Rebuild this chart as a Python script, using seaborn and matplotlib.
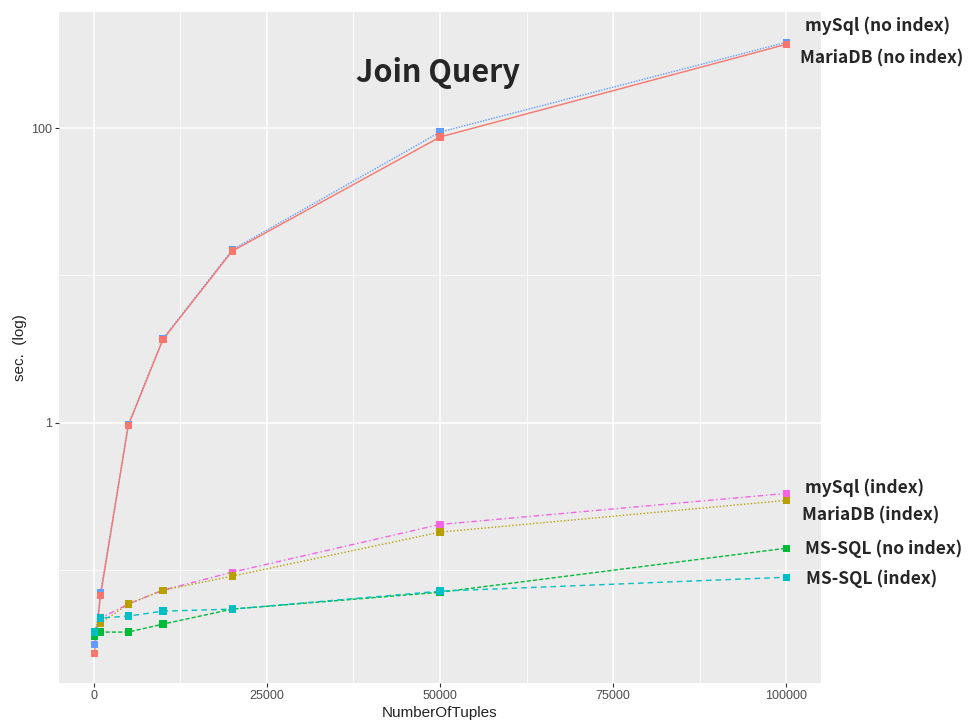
import matplotlib
matplotlib.use("Agg")
import matplotlib.pyplot as plt
import matplotlib.ticker as mticker
import seaborn as sns
import pandas as pd

# --- data ---
n_tuples = [100, 1000, 5000, 10000, 20000, 50000, 100000]
mysql_noidx = [0.031, 0.070, 0.97, 3.71, 14.9, 94, 383]
maria_noidx = [0.027, 0.067, 0.955, 3.66, 14.6, 87, 371]
mysql_idx = [0.0377, 0.0469, 0.0584, 0.0726, 0.0962, 0.203, 0.330]
maria_idx = [0.0354, 0.0434, 0.0584, 0.0726, 0.0904, 0.180, 0.296]
mssql_noidx = [0.0354, 0.0377, 0.0377, 0.0427, 0.054, 0.0703, 0.140]
mssql_idx = [0.0377, 0.047, 0.0484, 0.0523, 0.054, 0.0715, 0.0889]

names = ["mySql (no index)", "MariaDB (no index)", "mySql (index)",
         "MariaDB (index)", "MS-SQL (no index)", "MS-SQL (index)"]
values = [mysql_noidx, maria_noidx, mysql_idx, maria_idx, mssql_noidx, mssql_idx]

colors = {"mySql (no index)": "#619CFF", "MariaDB (no index)": "#F8766D",
          "mySql (index)": "#F564E3", "MariaDB (index)": "#B79F00",
          "MS-SQL (no index)": "#00BA38", "MS-SQL (index)": "#00BFC4"}
dashes = {"mySql (no index)": (1, 1), "MariaDB (no index)": "",
          "mySql (index)": (4, 2, 1, 2), "MariaDB (index)": (1, 1.5),
          "MS-SQL (no index)": (3, 1.5), "MS-SQL (index)": (4, 3)}

rows = []
for name, vals in zip(names, values):
    for n, v in zip(n_tuples, vals):
        rows.append({"NumberOfTuples": n, "sec": v, "db": name})
df = pd.DataFrame(rows)

sns.set_style("darkgrid", {"axes.facecolor": "#EBEBEB", "grid.color": "white",
                           "xtick.bottom": True, "ytick.left": True})
plt.rcParams['font.family'] = ['Liberation Sans', 'DejaVu Sans']

fig, ax = plt.subplots(figsize=(9.68, 7.25), dpi=100)
fig.subplots_adjust(left=59/968, right=821/968, top=1-12/725, bottom=1-683/725)

sns.lineplot(data=df, x="NumberOfTuples", y="sec", hue="db", style="db",
             palette=colors, dashes=dashes, linewidth=1, legend=False, ax=ax)
sns.scatterplot(data=df, x="NumberOfTuples", y="sec", hue="db", palette=colors,
                marker="s", s=28, linewidth=0, legend=False, ax=ax, zorder=3)

ax.set_yscale("log")
ax.set_ylim(0.017, 615)
ax.set_xlim(-5000, 105000)
ax.yaxis.set_major_locator(mticker.FixedLocator([1, 100]))
ax.yaxis.set_minor_locator(mticker.FixedLocator([0.1, 10]))
ax.yaxis.set_major_formatter(mticker.FixedFormatter(["1", "100"]))
ax.yaxis.set_minor_formatter(mticker.NullFormatter())
ax.xaxis.set_major_locator(mticker.FixedLocator([0, 25000, 50000, 75000, 100000]))
ax.xaxis.set_minor_locator(mticker.FixedLocator([12500, 37500, 62500, 87500]))
ax.xaxis.set_major_formatter(mticker.FuncFormatter(lambda v, p: f"{int(v)}"))

ax.grid(which="major", color="white", linewidth=1.1)
ax.grid(which="minor", color="white", linewidth=0.55)
ax.tick_params(which="major", length=3, width=0.8, color="#333333",
               labelcolor="#4D4D4D", labelsize=9, pad=2)
ax.tick_params(which="minor", length=0)
for s in ax.spines.values():
    s.set_visible(False)

ax.set_xlabel("NumberOfTuples", fontsize=11, color="#222222", labelpad=3)
ax.set_ylabel("sec.  (log)", fontsize=11, color="#222222", labelpad=3)

ax.text(0.497, 0.909, "Join Query", transform=ax.transAxes, ha="center", va="center",
        fontsize=22, fontweight="bold", family=["Noto Sans CJK KR", "DejaVu Sans"])

label_pos = {"mySql (no index)": (805, 26), "MariaDB (no index)": (800, 58),
             "mySql (index)": (805, 488), "MariaDB (index)": (802, 515),
             "MS-SQL (no index)": (805, 549), "MS-SQL (index)": (806, 579)}
for name in names:
    px, py = label_pos[name]
    fig.text(px/968, 1-py/725, name, ha="left", va="center", fontsize=12.5,
             fontweight="bold", family=["Noto Sans CJK KR", "DejaVu Sans"])

fig.savefig("out.png", dpi=100)
